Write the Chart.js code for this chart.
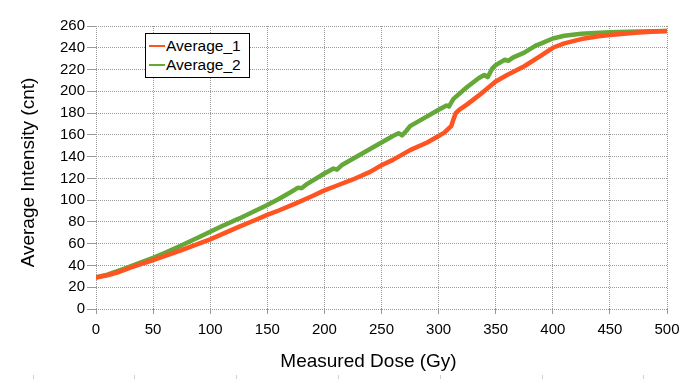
<!DOCTYPE html>
<html>
<head>
<meta charset="utf-8">
<script src="https://cdn.jsdelivr.net/npm/chart.js@4/dist/chart.umd.min.js"></script>
<style>
  html, body { margin: 0; padding: 0; background: #fff; }
  #wrap { position: relative; width: 687px; height: 379px; }
  #legend { position: absolute; left: 145px; top: 33px; width: 103px; height: 43px;
    border: 1px solid #000; background: #fff; font-family: "Liberation Sans", Arial, sans-serif;
    font-size: 15.5px; color: #000; }
  .item { position: absolute; left: 3px; height: 19px; line-height: 19px; white-space: nowrap; }
  .swatch { display: inline-block; width: 16px; height: 2px; vertical-align: middle; margin-right: 1px; position: relative; top: -1px; }
</style>
</head>
<body>
<div id="wrap">
  <canvas id="c" width="687" height="379"></canvas>
  <div id="legend"></div>
</div>
<script>
const seriesNames = ["Average_1", "Average_2"];
const xTitle = "Measured Dose (Gy)";
const yTitle = "Average Intensity (cnt)";

const doses1 = [0, 10, 20, 25, 30, 40, 50, 60, 75, 90, 100, 110, 125, 140, 150, 160, 175, 190, 200, 210, 225, 240, 250, 260, 275, 290, 300, 305, 311, 313, 315, 318, 325, 335, 350, 360, 375, 390, 400, 410, 425, 440, 450, 460, 475, 490, 500];
const avg1   = [29, 31, 34, 36, 38, 41.5, 45, 48.5, 54, 60, 64, 68.5, 75.5, 82, 86.5, 90.5, 97, 104, 109, 113, 119, 126, 132, 137, 146, 153, 159, 162, 168, 174, 180, 183, 188, 196, 209, 215, 223, 233, 240, 244, 248, 250.5, 251.7, 252.7, 254, 255, 255.5];

const doses2 = [0, 10, 25, 40, 50, 60, 75, 90, 100, 110, 125, 140, 150, 160, 170, 177, 180, 185, 200, 208, 211, 215, 225, 240, 250, 260, 265, 268, 272, 275, 285, 300, 307, 309, 313, 325, 335, 340, 343, 347, 350, 358, 361, 365, 375, 385, 390, 400, 410, 425, 450, 475, 500];
const avg2   = [29, 31.5, 37, 43, 47, 51.5, 58.5, 66, 71, 76, 83, 90.5, 95.5, 101, 107, 111.5, 111, 115, 124.5, 129, 128, 132, 138, 147, 153, 159, 161.5, 159.5, 164, 168, 174, 183, 187, 186, 193, 204, 212, 215, 213, 221, 224, 229, 228, 231, 235.5, 242, 244, 248.5, 251, 252.8, 254.3, 255, 255.5];

const colors = ["#ff5422", "#64a838"];
const FONT = '"Liberation Sans", Arial, sans-serif';

function pts(xs, ys) { return xs.map((x, i) => ({ x: x, y: ys[i] })); }

const titlePlugin = {
  id: 'axisTitles',
  afterDraw(chart) {
    const ctx = chart.ctx, a = chart.chartArea;
    ctx.save();
    ctx.fillStyle = '#000';
    ctx.font = '19px ' + FONT;
    ctx.textAlign = 'center';
    ctx.textBaseline = 'middle';
    ctx.fillText(xTitle, (a.left + a.right) / 2 - 13, a.bottom + 53);
    ctx.translate(29, (a.top + a.bottom) / 2 + 5);
    ctx.rotate(-Math.PI / 2);
    ctx.fillText(yTitle, 0, 0);
    ctx.restore();
    // faint page marks along the bottom edge
    ctx.save();
    ctx.strokeStyle = '#cfcfcf';
    ctx.lineWidth = 1;
    for (let x = 32.5; x < chart.width; x += 101.8) {
      const px = Math.round(x) + 0.5;
      ctx.beginPath(); ctx.moveTo(px, chart.height - 4); ctx.lineTo(px, chart.height); ctx.stroke();
    }
    ctx.restore();
  }
};

const chart = new Chart(document.getElementById('c'), {
  type: 'line',
  data: {
    datasets: [
      { label: seriesNames[0], data: pts(doses1, avg1), borderColor: colors[0], backgroundColor: colors[0],
        borderWidth: 4.5, pointRadius: 0, tension: 0, borderJoinStyle: 'round', borderCapStyle: 'round', fill: false },
      { label: seriesNames[1], data: pts(doses2, avg2), borderColor: colors[1], backgroundColor: colors[1],
        borderWidth: 4.5, pointRadius: 0, tension: 0, borderJoinStyle: 'round', borderCapStyle: 'round', fill: false }
    ]
  },
  options: {
    responsive: false,
    animation: false,
    devicePixelRatio: 1,
    layout: { padding: { top: 26, right: 20, left: 0, bottom: 0 } },
    plugins: { legend: { display: false }, tooltip: { enabled: false } },
    scales: {
      x: {
        type: 'linear', min: 0, max: 500,
        ticks: { stepSize: 50, color: '#000', font: { family: FONT, size: 15 }, padding: 7, maxRotation: 0 },
        grid: { color: '#999999', lineWidth: 1, tickLength: 5, tickColor: '#999999' },
        border: { display: false, dash: [1, 1] },
        afterFit(s) { s.height = 70; }
      },
      y: {
        min: 0, max: 260,
        ticks: { stepSize: 20, color: '#000', font: { family: FONT, size: 15 }, padding: 2 },
        grid: { color: '#999999', lineWidth: 1, tickLength: 9, tickColor: '#999999' },
        border: { display: false, dash: [1, 1] },
        afterFit(s) { s.width = 96; }
      }
    }
  },
  plugins: [titlePlugin]
});

// HTML legend built from the datasets
const leg = document.getElementById('legend');
chart.data.datasets.forEach((ds, i) => {
  const d = document.createElement('div');
  d.className = 'item';
  d.style.top = (2 + i * 19) + 'px';
  d.innerHTML = '<span class="swatch" style="background:' + ds.borderColor + '"></span>' + ds.label;
  leg.appendChild(d);
});
</script>
</body>
</html>
